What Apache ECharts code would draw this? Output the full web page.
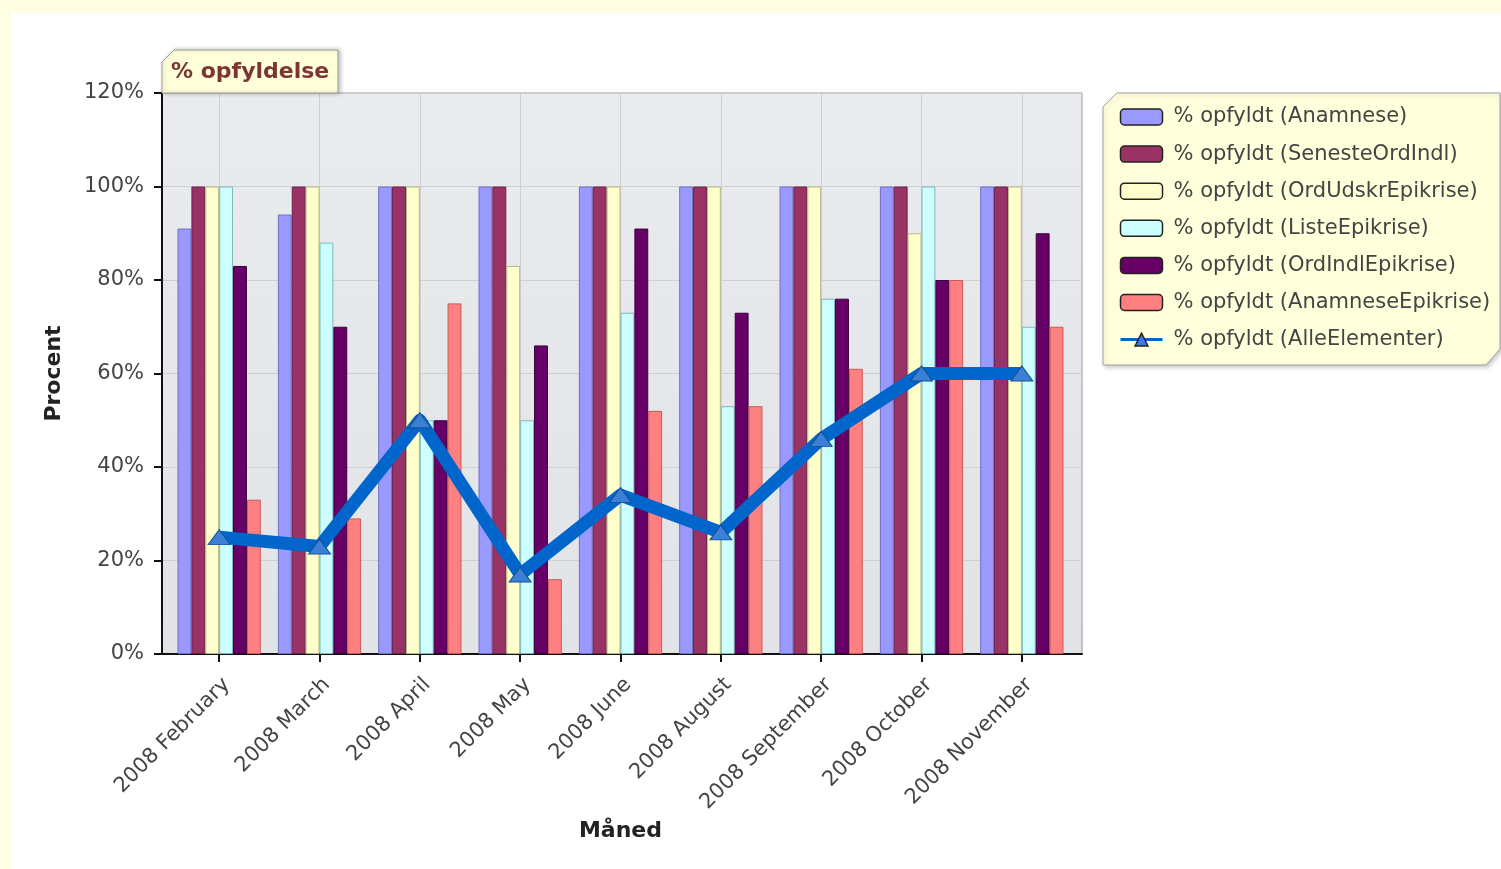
<!DOCTYPE html>
<html><head><meta charset="utf-8">
<script src="https://cdn.jsdelivr.net/npm/echarts@6/dist/echarts.min.js"></script>
<style>html,body{margin:0;padding:0;background:#fffee4}#c{width:1501px;height:869px}</style>
</head><body><div id="c"></div>
<script>
const categories = ['2008 February','2008 March','2008 April','2008 May','2008 June','2008 August','2008 September','2008 October','2008 November'];
const barNames = ['% opfyldt (Anamnese)','% opfyldt (SenesteOrdIndl)','% opfyldt (OrdUdskrEpikrise)','% opfyldt (ListeEpikrise)','% opfyldt (OrdIndlEpikrise)','% opfyldt (AnamneseEpikrise)'];
const lineName = '% opfyldt (AlleElementer)';
const anamnese         = [91, 94, 100, 100, 100, 100, 100, 100, 100];
const senesteOrdIndl   = [100, 100, 100, 100, 100, 100, 100, 100, 100];
const ordUdskrEpikrise = [100, 100, 100, 83, 100, 100, 100, 90, 100];
const listeEpikrise    = [100, 88, 50, 50, 73, 53, 76, 100, 70];
const ordIndlEpikrise  = [83, 70, 50, 66, 91, 73, 76, 80, 90];
const anamneseEpikrise = [33, 29, 75, 16, 52, 53, 61, 80, 70];
const alleElementer    = [25, 23, 50, 17, 34, 26, 46, 60, 60];
const yMin = 0, yMax = 120, yStep = 20;

const barValues = [anamnese, senesteOrdIndl, ordUdskrEpikrise, listeEpikrise, ordIndlEpikrise, anamneseEpikrise];
const barColors = ['#9999ff','#993366','#ffffcc','#ccffff','#660066','#ff8080'];
const barBorders = ['#6f6fc0','#6e2049','#b8b88a','#7fb8b8','#3a003a','#c85a5a'];
const FONT = 'DejaVu Sans';

const chart = echarts.init(document.getElementById('c'));
const series = barValues.map((vals, i) => ({
  name: barNames[i], type: 'bar', xAxisIndex: 1, yAxisIndex: 1,
  data: vals, barGap: '0%', barCategoryGap: '17%',
  itemStyle: { color: barColors[i], borderColor: barBorders[i], borderWidth: 1 },
  z: 2
}));
series.push({
  name: lineName, type: 'line', xAxisIndex: 1, yAxisIndex: 1, data: alleElementer,
  symbol: 'triangle', symbolSize: [22, 15],
  lineStyle: { color: '#0066cc', width: 13, join: 'round' },
  itemStyle: { color: '#3b80d6', borderColor: '#1b4f8f', borderWidth: 1 },
  z: 5
});

chart.setOption({
  backgroundColor: '#fffee4',
  animation: false,
  graphic: [
    { type: 'rect', z: -10, shape: { x: 12, y: 13, width: 1489, height: 856 }, style: { fill: '#ffffff' } },
    { type: 'polygon', z: 1, shape: { points: [[162,93],[162,62],[174,50],[338,50],[338,93]] },
      style: { fill: '#ffffd9', stroke: '#9a9a9a', lineWidth: 1, shadowBlur: 4, shadowColor: 'rgba(0,0,0,0.25)', shadowOffsetX: 2, shadowOffsetY: 0 } },
    { type: 'polygon', z: 1, shape: { points: [[1103,107],[1117,93],[1500,93],[1500,349],[1486,365],[1103,365]] },
      style: { fill: '#ffffdc', stroke: '#a0a0a0', lineWidth: 1, shadowBlur: 4, shadowColor: 'rgba(0,0,0,0.2)', shadowOffsetX: 2, shadowOffsetY: 2 } }
  ],
  title: {
    text: '% opfyldelse', left: 171, top: 61, padding: 0,
    textStyle: { fontFamily: FONT, fontSize: 22, fontWeight: 'bold', color: '#7d3434' }
  },
  legend: {
    orient: 'vertical', left: 1119, top: 106, padding: 0,
    itemWidth: 42, itemHeight: 16, itemGap: 15.1,
    data: barNames.concat([lineName]),
    textStyle: { fontFamily: FONT, fontSize: 21, color: '#444', lineHeight: 22, padding: [0,0,0,6] },
    itemStyle: { borderColor: '#222', borderWidth: 1.5 },
    lineStyle: { width: 3 }
  },
  grid: [
    { left: 162, top: 93, width: 920, height: 561, show: true, borderColor: '#999', borderWidth: 1,
      backgroundColor: new echarts.graphic.LinearGradient(0, 0, 0, 1, [{offset: 0, color: '#e9ebee'}, {offset: 1, color: '#e1e3e7'}]) },
    { left: 169, top: 93, width: 903, height: 561 },
    { left: 219, top: 93, width: 803, height: 561 }
  ],
  xAxis: [
    { type: 'category', gridIndex: 0, data: categories, axisLine: { lineStyle: { color: '#111', width: 2 } },
      axisTick: { show: false }, axisLabel: { show: false }, splitLine: { show: false } },
    { type: 'category', gridIndex: 1, data: categories, axisLine: { show: false },
      axisTick: { show: true, alignWithLabel: true, length: 8, lineStyle: { color: '#111', width: 2 } },
      axisLabel: { rotate: 45, margin: 20, verticalAlign: 'top', fontFamily: FONT, fontSize: 21, color: '#444' },
      splitLine: { show: false },
      name: 'Måned', nameLocation: 'middle', nameGap: 162,
      nameTextStyle: { fontFamily: FONT, fontSize: 22, fontWeight: 'bold', color: '#222' } },
    { type: 'value', gridIndex: 2, min: 0, max: categories.length - 1, interval: 1,
      axisLine: { show: false }, axisTick: { show: false }, axisLabel: { show: false },
      splitLine: { show: true, lineStyle: { color: '#cdcfd3', width: 1 } } }
  ],
  yAxis: [
    { type: 'value', gridIndex: 0, min: yMin, max: yMax, interval: yStep,
      axisLine: { show: true, lineStyle: { color: '#111', width: 2 } },
      axisTick: { show: true, length: 8, lineStyle: { color: '#111', width: 2 } },
      axisLabel: { formatter: '{value}%', margin: 18, fontFamily: FONT, fontSize: 21, color: '#444' },
      splitLine: { show: true, lineStyle: { color: '#cdcfd3', width: 1 } },
      name: 'Procent', nameLocation: 'middle', nameGap: 97, nameRotate: 90,
      nameTextStyle: { fontFamily: FONT, fontSize: 22, fontWeight: 'bold', color: '#222' } },
    { type: 'value', gridIndex: 1, min: yMin, max: yMax, interval: yStep, show: false },
    { type: 'value', gridIndex: 2, min: yMin, max: yMax, interval: yStep, show: false }
  ],
  series: series
});
</script></body></html>
